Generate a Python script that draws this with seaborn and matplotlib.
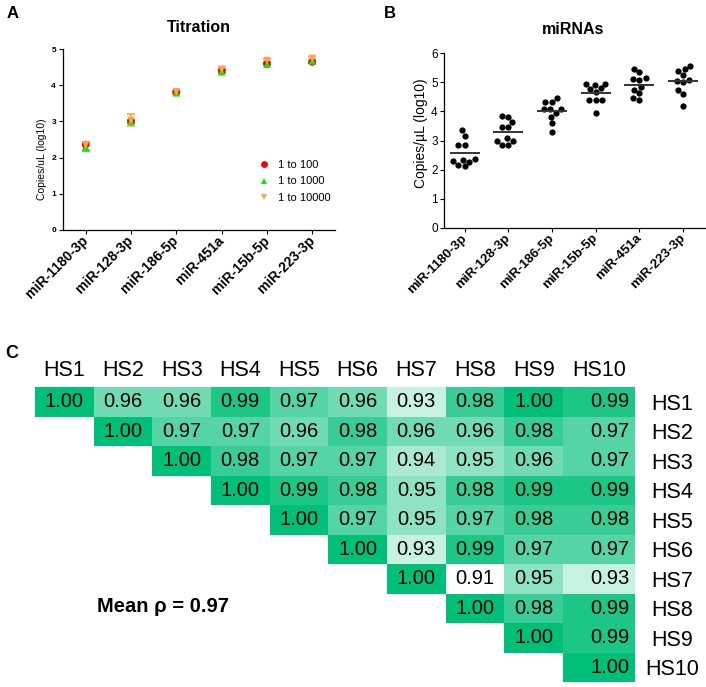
import numpy as np
import pandas as pd
import matplotlib
matplotlib.use("Agg")
import matplotlib.pyplot as plt
import seaborn as sns
from matplotlib.colors import LinearSegmentedColormap

# ---------------- Panel A data (titration) ----------------
mirs_a = ["miR-1180-3p", "miR-128-3p", "miR-186-5p", "miR-451a", "miR-15b-5p", "miR-223-3p"]
dilutions = ["1 to 100", "1 to 1000", "1 to 10000"]
a_100 = [2.36, 3.00, 3.81, 4.40, 4.60, 4.64]
a_1000 = [2.30, 3.00, 3.79, 4.37, 4.58, 4.67]
a_10000 = [2.35, 3.03, 3.82, 4.44, 4.68, 4.74]
e_100 = [0.03, 0.04, 0.02, 0.03, 0.02, 0.03]
e_1000 = [0.12, 0.04, 0.02, 0.02, 0.03, 0.03]
e_10000 = [0.04, 0.17, 0.03, 0.06, 0.04, 0.04]
dil_colors = ["#ff0000", "#19e019", "#ffa54a"]
dil_markers = ["o", "^", "v"]

# ---------------- Panel B data (miRNAs) ----------------
mirs_b = ["miR-1180-3p", "miR-128-3p", "miR-186-5p", "miR-15b-5p", "miR-451a", "miR-223-3p"]
b_1180 = [3.35, 3.16, 2.85, 2.85, 2.37, 2.33, 2.30, 2.27, 2.12, 2.15]
b_128 = [3.85, 3.81, 3.63, 3.46, 3.46, 3.08, 3.00, 3.00, 2.85, 2.85]
b_186 = [4.46, 4.33, 4.33, 4.09, 4.09, 4.09, 3.96, 3.82, 3.61, 3.28]
b_15b = [4.95, 4.93, 4.92, 4.80, 4.78, 4.66, 4.38, 4.38, 4.38, 3.96]
b_451 = [5.46, 5.36, 5.14, 5.10, 5.07, 4.83, 4.74, 4.62, 4.45, 4.40]
b_223 = [5.55, 5.45, 5.38, 5.23, 5.08, 5.03, 4.99, 4.74, 4.61, 4.18]

# ---------------- Panel C data (correlation) ----------------
samples = ["HS1", "HS2", "HS3", "HS4", "HS5", "HS6", "HS7", "HS8", "HS9", "HS10"]
n = np.nan
rho_hs1 = [1.00, 0.96, 0.96, 0.99, 0.97, 0.96, 0.93, 0.98, 1.00, 0.99]
rho_hs2 = [n, 1.00, 0.97, 0.97, 0.96, 0.98, 0.96, 0.96, 0.98, 0.97]
rho_hs3 = [n, n, 1.00, 0.98, 0.97, 0.97, 0.94, 0.95, 0.96, 0.97]
rho_hs4 = [n, n, n, 1.00, 0.99, 0.98, 0.95, 0.98, 0.99, 0.99]
rho_hs5 = [n, n, n, n, 1.00, 0.97, 0.95, 0.97, 0.98, 0.98]
rho_hs6 = [n, n, n, n, n, 1.00, 0.93, 0.99, 0.97, 0.97]
rho_hs7 = [n, n, n, n, n, n, 1.00, 0.91, 0.95, 0.93]
rho_hs8 = [n, n, n, n, n, n, n, 1.00, 0.98, 0.99]
rho_hs9 = [n, n, n, n, n, n, n, n, 1.00, 0.99]
rho_hs10 = [n, n, n, n, n, n, n, n, n, 1.00]

sns.set_style("ticks")
plt.rcParams["font.family"] = ["Liberation Sans", "DejaVu Sans"]
plt.rcParams["axes.linewidth"] = 0.9
for key in ["text.color", "axes.labelcolor", "xtick.color", "ytick.color", "axes.edgecolor"]:
    plt.rcParams[key] = "black"

W, H = 706, 687
fig = plt.figure(figsize=(W / 100, H / 100), dpi=100)


def box(x0, y0, x1, y1):
    return [x0 / W, 1 - y1 / H, (x1 - x0) / W, (y1 - y0) / H]


# ================= Panel A =================
axA = fig.add_axes(box(63, 49, 335, 230))
dfA = pd.DataFrame({
    "miRNA": mirs_a * 3,
    "copies": a_100 + a_1000 + a_10000,
    "dilution": [dilutions[0]] * 6 + [dilutions[1]] * 6 + [dilutions[2]] * 6,
})
for vals, errs, col in zip([a_100, a_1000, a_10000], [e_100, e_1000, e_10000], dil_colors):
    axA.errorbar(mirs_a, vals, yerr=errs, fmt="none", ecolor=col, elinewidth=1.2,
                 capsize=3, capthick=1.2, zorder=2)
sns.scatterplot(data=dfA, x="miRNA", y="copies", hue="dilution", style="dilution",
                palette=dict(zip(dilutions, dil_colors)),
                markers=dict(zip(dilutions, dil_markers)),
                s=30, linewidth=0, ax=axA, zorder=3)
axA.set_xlim(-0.5, 5.5)
axA.set_ylim(0, 5)
axA.set_yticks([0, 1, 2, 3, 4, 5])
sns.despine(ax=axA)
axA.set_xlabel("")
axA.set_ylabel("Copies/uL (log10)", fontsize=7.5)
axA.yaxis.set_label_coords(-0.06, 0.39)
axA.tick_params(axis="y", labelsize=6, length=3, width=0.8, pad=2)
axA.tick_params(axis="x", labelsize=10, length=3, width=0.8, pad=3)
for lab in axA.get_yticklabels():
    lab.set_fontweight("bold")
for lab in axA.get_xticklabels():
    lab.set_fontweight("bold")
    lab.set_rotation(45)
    lab.set_ha("right")
    lab.set_va("center")
    lab.set_rotation_mode("anchor")
sns.move_legend(axA, "upper left", bbox_to_anchor=(0.66, 0.44), title=None,
                frameon=False, fontsize=8, handletextpad=0.3, labelspacing=0.55,
                markerscale=0.9)
fig.text(199 / W, 1 - 28 / H, "Titration", fontsize=11.5, fontweight="bold",
         ha="center", va="center")
fig.text(13 / W, 1 - 14 / H, "A", fontsize=12, fontweight="bold", ha="center", va="center")

# ================= Panel B =================
axB = fig.add_axes(box(444, 53, 705, 228))
dfB = pd.DataFrame({
    "miRNA": sum([[m] * 10 for m in mirs_b], []),
    "copies": b_1180 + b_128 + b_186 + b_15b + b_451 + b_223,
})
sns.swarmplot(data=dfB, x="miRNA", y="copies", order=mirs_b, color="black", size=4.5,
              ax=axB, zorder=3)
sns.pointplot(data=dfB, x="miRNA", y="copies", order=mirs_b, estimator="mean",
              errorbar=None, linestyle="none", marker="_", markersize=21,
              markeredgewidth=1.4, color="#333333", ax=axB, zorder=4)
axB.set_xlim(-0.47, 5.5)
axB.set_ylim(0, 6)
axB.set_yticks([0, 1, 2, 3, 4, 5, 6])
sns.despine(ax=axB)
axB.set_xlabel("")
axB.set_ylabel("Copies/µL (log10)", fontsize=10)
axB.yaxis.set_label_coords(-0.062, 0.54)
axB.tick_params(axis="y", labelsize=8.5, length=3, width=0.8, pad=1.5)
axB.tick_params(axis="x", labelsize=9.5, length=3, width=0.8, pad=3)
for lab in axB.get_xticklabels():
    lab.set_fontweight("bold")
    lab.set_rotation(45)
    lab.set_ha("right")
    lab.set_va("center")
    lab.set_rotation_mode("anchor")
fig.text(573 / W, 1 - 30 / H, "miRNAs", fontsize=11.5, fontweight="bold",
         ha="center", va="center")
fig.text(390 / W, 1 - 14 / H, "B", fontsize=12, fontweight="bold", ha="center", va="center")

# ================= Panel C =================
corr = np.array([rho_hs1, rho_hs2, rho_hs3, rho_hs4, rho_hs5, rho_hs6, rho_hs7,
                 rho_hs8, rho_hs9, rho_hs10], dtype=float)
dfC = pd.DataFrame(corr, index=samples, columns=samples)
maskC = dfC.isna()
cmap = LinearSegmentedColormap.from_list("wg", ["#ffffff", "#00bf78"])

axC1 = fig.add_axes(box(35, 387, 563, 682))
axC2 = fig.add_axes(box(563, 387, 635, 682))
common = dict(cmap=cmap, vmin=0.91, vmax=1.0, cbar=False, annot=True, fmt=".2f",
              annot_kws=dict(size=14.5, color="black"), linewidths=0)
sns.heatmap(dfC.iloc[:, :9], mask=maskC.iloc[:, :9], ax=axC1, **common)
sns.heatmap(dfC.iloc[:, 9:], mask=maskC.iloc[:, 9:], ax=axC2, **common)

for ax in (axC1, axC2):
    ax.xaxis.tick_top()
    ax.set_xlabel("")
    ax.set_ylabel("")
    ax.tick_params(axis="x", length=0, labelsize=15.5, pad=4)
    for lab in ax.get_xticklabels():
        lab.set_rotation(0)
axC1.set_yticks([])
for t in axC2.texts:
    t.set_ha("right")
    t.set_x(0.92)
axC2.yaxis.tick_right()
axC2.tick_params(axis="y", length=0, labelsize=15.5, pad=27)
for lab in axC2.get_yticklabels():
    lab.set_rotation(0)
    lab.set_ha("center")

upper = corr[np.triu_indices(len(samples), k=1)]
mean_rho = np.nanmean(upper)
fig.text(97 / W, 1 - 606 / H, f"Mean ρ = {mean_rho:.2f}", fontsize=14.5,
         fontweight="bold", ha="left", va="center")
fig.text(12 / W, 1 - 353 / H, "C", fontsize=13, fontweight="bold", ha="center", va="center")

fig.savefig("out.png", dpi=100)
